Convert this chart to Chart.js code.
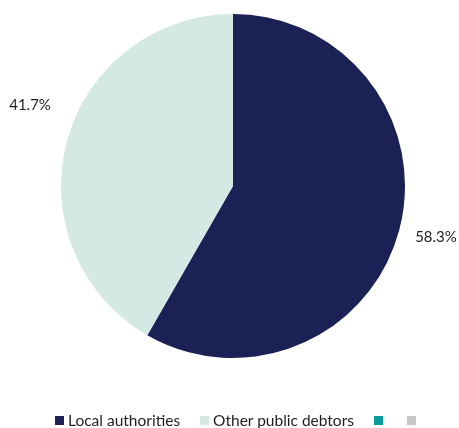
<!DOCTYPE html>
<html>
<head>
<meta charset="utf-8">
<script src="https://cdn.jsdelivr.net/npm/chart.js@4.4.0/dist/chart.umd.min.js"></script>
<style>
  html, body { margin: 0; padding: 0; background: #fff; }
  #wrap { position: relative; width: 459px; height: 428px; }
  #legend { position: absolute; left: 0; width: 459px; top: 411px; display: flex; justify-content: center;
    padding-left: 16px; box-sizing: border-box;
    font-family: Lato, "Liberation Sans", sans-serif; font-size: 15.5px; color: #1e1e1e; }
  #legend span.item { display: inline-flex; align-items: center; margin: 0 10px; }
  #legend span.box { width: 9px; height: 9px; display: inline-block; margin-right: 4px; }
</style>
</head>
<body>
<div id="wrap">
  <canvas id="pie" width="459" height="428"></canvas>
  <div id="legend"></div>
</div>
<script>
const categories = ['Local authorities', 'Other public debtors', '', ''];
const shares = [58.3, 41.7, 0, 0];
const pctLabels = ['58.3%', '41.7%', '', ''];
const colors = ['#1b2154', '#d4e8e4', '#0a9b9b', '#c8c8c8'];

// labels outside the slices, nudged like the original
const labelNudge = [[2, -2], [-2, -27]];

const outsideLabels = {
  id: 'outsideLabels',
  afterDatasetsDraw(chart) {
    const ctx = chart.ctx;
    const arcs = chart.getDatasetMeta(0).data;
    ctx.save();
    ctx.font = '15px Lato, "Liberation Sans", sans-serif';
    ctx.fillStyle = '#1e1e1e';
    ctx.textAlign = 'center';
    ctx.textBaseline = 'middle';
    arcs.forEach((arc, i) => {
      if (!pctLabels[i]) return;
      const mid = (arc.startAngle + arc.endAngle) / 2;
      const r = arc.outerRadius + 36;
      const n = labelNudge[i] || [0, 0];
      ctx.fillText(pctLabels[i], arc.x + Math.cos(mid) * r + n[0], arc.y + Math.sin(mid) * r + n[1]);
    });
    ctx.restore();
  }
};

new Chart(document.getElementById('pie'), {
  type: 'pie',
  data: {
    labels: categories,
    datasets: [{
      data: shares,
      backgroundColor: colors,
      borderWidth: 0
    }]
  },
  options: {
    responsive: false,
    animation: false,
    layout: { padding: { top: 14, bottom: 70, left: 61, right: 54 } },
    plugins: {
      legend: { display: false },
      tooltip: { enabled: false }
    }
  },
  plugins: [outsideLabels]
});

const legend = document.getElementById('legend');
categories.forEach((name, i) => {
  const item = document.createElement('span');
  item.className = 'item';
  item.innerHTML = '<span class="box" style="background:' + colors[i] + '"></span>' + name;
  legend.appendChild(item);
});
</script>
</body>
</html>
